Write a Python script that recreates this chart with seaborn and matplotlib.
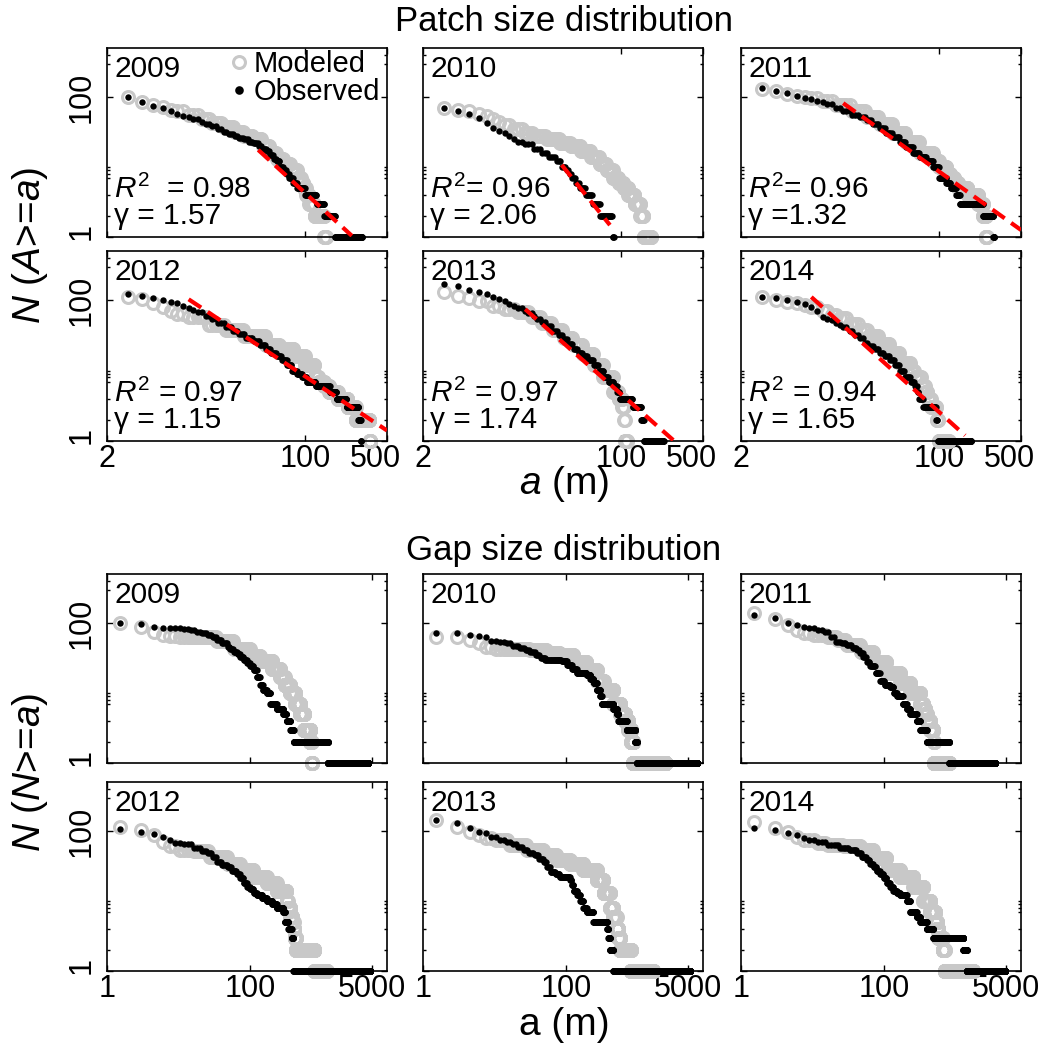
import numpy as np
import pandas as pd
import matplotlib
matplotlib.use("Agg")
import matplotlib.pyplot as plt
from matplotlib.ticker import FixedLocator, NullLocator, NullFormatter
from matplotlib.transforms import ScaledTranslation
import seaborn as sns

# ---------------------------------------------------------------- data
years = ["2009", "2010", "2011", "2012", "2013", "2014"]
r2_text = ["$R^2$  = 0.98", "$R^2$= 0.96", "$R^2$= 0.96",
           "$R^2$ = 0.97", "$R^2$ = 0.97", "$R^2$ = 0.94"]
gamma_text = ["γ = 1.57", "γ = 2.06", "γ =1.32", "γ = 1.15", "γ = 1.74", "γ = 1.65"]

# fitted power-law lines of the patch panels (size and count at both ends)
fit_a_start = [39.5, 30.8, 15, 10, 15, 8]
fit_n_start = [17.5, 10.7, 81.5, 103, 74.5, 111]
fit_a_end = [250, 79.8, 500, 500, 278, 166]
fit_n_end = [1.04, 1.48, 1.26, 1.41, 1.03, 1.2]

patch_xticks = [2, 100, 500]
gap_xticks = [1, 100, 5000]
y_ticks = [1, 100]
y_minor = [2, 4, 7, 8, 9, 10, 300, 400]

patch_step = 1.0   # sizes evaluated every 1 m
gap_step = 1.5     # sizes evaluated every 1.5 m

# N(A>=a): size thresholds a where the count changes and the count from there on
# (last pair = the largest size in the series)
patch_2009_obs_a = [3, 4, 5, 6, 7, 8, 9, 10, 11, 13, 14, 16, 18, 20, 22, 25, 27, 30, 33, 36, 40, 43, 47, 50, 54, 57, 61, 65, 69, 73, 79, 85, 100, 125, 145, 180, 305]
patch_2009_obs_n = [101, 84, 74, 69, 64, 58, 54, 51, 48, 44, 41, 38, 35, 32, 30, 28, 26, 25, 23, 22, 20, 18, 17, 15, 13, 12, 10, 9, 8, 7, 6, 5, 4, 3, 2, 1, 1]
patch_2009_mod_a = [3, 4, 5, 6, 7, 8, 10, 13, 16, 20, 25, 30, 36, 43, 50, 57, 65, 75, 85, 92, 97, 102, 108, 120, 145, 150]
patch_2009_mod_n = [100, 86, 76, 71, 66, 62, 56, 49, 43, 37, 32, 28, 25, 20, 16, 13, 11, 9, 7, 6, 5, 4, 3, 2, 1, 1]

patch_2010_obs_a = [3, 4, 5, 6, 7, 8, 9, 10, 11, 12, 13, 15, 18, 21, 24, 28, 31, 34, 36, 38, 41, 44, 50, 57, 66, 84, 86]
patch_2010_obs_n = [70, 62, 57, 50, 42, 36, 33, 31, 28, 25, 23, 21, 18, 16, 14, 12, 10, 9, 8, 7, 6, 5, 4, 3, 2, 1, 1]
patch_2010_mod_a = [3, 4, 5, 6, 7, 8, 9, 10, 12, 15, 18, 23, 30, 37, 45, 55, 65, 75, 85, 95, 105, 115, 130, 145, 155, 180]
patch_2010_mod_n = [70, 66, 62, 58, 54, 48, 44, 40, 35, 31, 28, 25, 22, 20, 17, 14, 11, 9, 7, 6, 5, 4, 3, 2, 1, 1]

patch_2011_obs_a = [3, 4, 5, 6, 7, 8, 9, 10, 11, 13, 15, 18, 21, 24, 27, 31, 35, 40, 46, 52, 60, 68, 78, 89, 100, 115, 125, 140, 150, 237, 290, 295]
patch_2011_obs_n = [135, 123, 113, 103, 98, 94, 88, 84, 79, 70, 62, 55, 51, 47, 41, 36, 31, 27, 23, 19, 16, 14, 12, 10, 7, 6, 5, 4, 3, 2, 1, 1]
patch_2011_mod_a = [3, 4, 5, 6, 7, 8, 10, 13, 18, 24, 31, 40, 52, 68, 89, 100, 115, 125, 135, 145, 175, 215, 237, 250, 255]
patch_2011_mod_n = [130, 120, 110, 104, 100, 96, 88, 76, 62, 52, 41, 31, 23, 16, 12, 10, 8, 7, 6, 5, 4, 3, 2, 1, 1]

patch_2012_obs_a = [3, 4, 5, 6, 7, 8, 9, 10, 11, 12, 14, 16, 18, 21, 24, 27, 31, 36, 41, 46, 51, 57, 63, 70, 77, 85, 94, 103, 123, 162, 185, 225, 285, 298, 300]
patch_2012_obs_n = [124, 115, 107, 100, 95, 90, 83, 77, 72, 68, 60, 54, 47, 41, 37, 33, 29, 26, 23, 20, 18, 16, 14, 12, 10, 9, 8, 7, 6, 5, 4, 3, 2, 1, 1]
patch_2012_mod_a = [3, 4, 5, 6, 7, 8, 10, 15, 21, 30, 46, 60, 80, 100, 120, 130, 145, 160, 190, 230, 270, 355, 360]
patch_2012_mod_n = [110, 103, 92, 81, 71, 64, 57, 45, 38, 31, 23, 20, 16, 12, 8, 7, 6, 5, 4, 3, 2, 1, 1]

patch_2013_obs_a = [3, 4, 5, 6, 7, 8, 9, 10, 11, 12, 13, 15, 16, 18, 19, 21, 23, 26, 29, 32, 35, 39, 43, 47, 52, 58, 64, 71, 78, 86, 92, 97, 125, 148, 156, 230]
patch_2013_obs_n = [172, 160, 140, 129, 122, 112, 104, 96, 89, 83, 77, 70, 65, 59, 54, 49, 43, 37, 32, 28, 24, 20, 18, 16, 14, 12, 10, 8, 7, 6, 5, 4, 3, 2, 1, 1]
patch_2013_mod_a = [3, 4, 5, 6, 8, 10, 13, 17, 21, 26, 32, 39, 47, 58, 70, 85, 95, 102, 106, 108, 112]
patch_2013_mod_n = [130, 116, 106, 98, 84, 75, 67, 57, 48, 38, 29, 23, 17, 12, 8, 5, 4, 3, 2, 1, 1]

patch_2014_obs_a = [3, 4, 5, 6, 7, 8, 9, 10, 11, 12, 13, 14, 15, 17, 19, 21, 23, 25, 28, 31, 34, 38, 42, 46, 51, 57, 62, 65, 67, 73, 94, 97, 188]
patch_2014_obs_n = [111, 107, 100, 95, 88, 81, 70, 57, 54, 52, 48, 45, 41, 36, 32, 29, 25, 22, 20, 18, 16, 14, 12, 10, 8, 7, 6, 5, 4, 3, 2, 1, 1]
patch_2014_mod_a = [3, 4, 5, 6, 7, 8, 10, 12, 14, 17, 21, 25, 31, 38, 46, 57, 62, 70, 76, 80, 85, 95, 99, 120]
patch_2014_mod_n = [110, 100, 95, 92, 86, 80, 70, 62, 55, 46, 38, 31, 24, 18, 13, 10, 8, 6, 5, 4, 3, 2, 1, 1]

gap_2009_obs_a = [1.5, 3, 4.5, 6, 7.5, 11, 14, 18, 21, 25, 29, 34, 40, 47, 52, 58, 65, 72, 80, 89, 99, 110, 122, 136, 150, 169, 188, 232, 286, 318, 360, 400, 1200, 4400]
gap_2009_obs_n = [99, 96, 88, 86, 84, 82, 80, 75, 71, 67, 62, 57, 51, 46, 42, 39, 36, 33, 30, 27, 24, 21, 17, 13, 11, 10, 7, 6, 5, 4, 3, 2, 1, 1]
gap_2009_mod_a = [1.5, 3, 4.5, 6, 7.5, 10, 20, 34, 58, 99, 136, 200, 259, 300, 357, 420, 493, 560, 680, 710, 720]
gap_2009_mod_n = [100, 88, 75, 68, 65, 63, 62, 55, 42, 34, 29, 22, 17, 13, 10, 7, 5, 3, 2, 1, 1]

gap_2010_obs_a = [1.5, 3, 4.5, 6, 7.5, 9, 12, 15, 18, 22, 26, 31, 37, 43, 50, 85, 101, 120, 139, 190, 215, 238, 265, 295, 310, 450, 505, 530, 690, 910, 960, 6600]
gap_2010_obs_n = [73, 71, 67, 65, 64, 56, 54, 51, 47, 44, 41, 39, 35, 32, 30, 29, 25, 22, 19, 18, 16, 14, 11, 9, 7, 6, 5, 4, 3, 2, 1, 1]
gap_2010_mod_a = [1.5, 4.5, 6, 7.5, 10, 31, 53, 80, 125, 190, 265, 330, 450, 560, 660, 730, 800, 850, 2400]
gap_2010_mod_n = [64, 57, 51, 46, 43, 41, 37, 35, 28, 21, 15, 11, 7, 5, 4, 3, 2, 1, 1]

gap_2011_obs_a = [1.5, 3, 4.5, 6, 7.5, 9, 11, 14, 17, 21, 25, 30, 35, 41, 45, 50, 56, 63, 74, 87, 100, 120, 135, 149, 180, 205, 228, 281, 314, 388, 800, 3500]
gap_2011_obs_n = [130, 117, 101, 94, 87, 84, 80, 75, 64, 54, 51, 48, 44, 41, 37, 33, 28, 24, 19, 15, 13, 12, 10, 9, 7, 6, 5, 4, 3, 2, 1, 1]
gap_2011_mod_a = [1.5, 3, 4.5, 6, 7.5, 10, 16, 22, 30, 46, 70, 108, 165, 228, 314, 348, 370, 388, 433, 482, 490, 800]
gap_2011_mod_n = [137, 113, 94, 80, 71, 67, 64, 57, 48, 39, 28, 19, 14, 10, 7, 6, 5, 4, 3, 2, 1, 1]

gap_2012_obs_a = [1.5, 3, 4.5, 6, 7.5, 9, 12, 16, 20, 25, 29, 34, 40, 47, 55, 64, 72, 80, 90, 99, 110, 122, 145, 169, 200, 232, 286, 303, 337, 375, 397, 4700]
gap_2012_obs_n = [107, 96, 90, 83, 74, 68, 65, 57, 52, 48, 42, 36, 33, 31, 27, 24, 21, 18, 16, 15, 13, 12, 11, 10, 9, 8, 7, 5, 4, 3, 1, 1]
gap_2012_mod_a = [1.5, 3, 4.5, 6, 7.5, 10, 16, 27, 47, 72, 110, 169, 232, 318, 330, 360, 385, 400, 410, 430, 780, 1150]
gap_2012_mod_n = [115, 103, 88, 70, 60, 53, 51, 43, 34, 28, 22, 18, 14, 10, 8, 6, 5, 4, 3, 2, 1, 1]

gap_2013_obs_a = [1.5, 3, 4.5, 6, 7.5, 9, 12, 15, 18, 21, 25, 30, 35, 41, 48, 53, 59, 70, 80, 112, 118, 125, 140, 155, 172, 192, 237, 370, 383, 404, 450, 5300]
gap_2013_obs_n = [144, 129, 111, 98, 93, 83, 74, 70, 65, 59, 53, 49, 45, 40, 36, 31, 26, 24, 22, 20, 17, 14, 12, 10, 8, 7, 5, 4, 3, 2, 1, 1]
gap_2013_mod_a = [1.5, 3, 4.5, 6, 7.5, 10, 16, 28, 48, 73, 112, 172, 265, 328, 404, 450, 500, 530, 560, 790, 1600]
gap_2013_mod_n = [144, 115, 98, 87, 79, 74, 63, 53, 45, 38, 34, 28, 20, 13, 8, 6, 4, 3, 2, 1, 1]

gap_2014_obs_a = [1.5, 3, 4.5, 6, 7.5, 9, 11, 16, 24, 33, 41, 48, 56, 63, 70, 78, 87, 97, 108, 120, 133, 150, 165, 205, 228, 281, 314, 388, 480, 1260, 1400, 4800]
gap_2014_obs_n = [109, 103, 93, 88, 79, 74, 69, 63, 58, 53, 48, 43, 38, 34, 31, 27, 24, 21, 18, 16, 14, 13, 12, 10, 7, 6, 5, 4, 3, 2, 1, 1]
gap_2014_mod_a = [1.5, 3, 4.5, 6, 7.5, 11, 16, 27, 46, 70, 108, 165, 253, 348, 433, 509, 540, 565, 650, 690, 1700]
gap_2014_mod_n = [135, 109, 98, 83, 74, 67, 63, 60, 53, 41, 28, 22, 16, 10, 7, 5, 4, 3, 2, 1, 1]

patch_obs = [(patch_2009_obs_a, patch_2009_obs_n), (patch_2010_obs_a, patch_2010_obs_n),
             (patch_2011_obs_a, patch_2011_obs_n), (patch_2012_obs_a, patch_2012_obs_n),
             (patch_2013_obs_a, patch_2013_obs_n), (patch_2014_obs_a, patch_2014_obs_n)]
patch_mod = [(patch_2009_mod_a, patch_2009_mod_n), (patch_2010_mod_a, patch_2010_mod_n),
             (patch_2011_mod_a, patch_2011_mod_n), (patch_2012_mod_a, patch_2012_mod_n),
             (patch_2013_mod_a, patch_2013_mod_n), (patch_2014_mod_a, patch_2014_mod_n)]
gap_obs = [(gap_2009_obs_a, gap_2009_obs_n), (gap_2010_obs_a, gap_2010_obs_n),
           (gap_2011_obs_a, gap_2011_obs_n), (gap_2012_obs_a, gap_2012_obs_n),
           (gap_2013_obs_a, gap_2013_obs_n), (gap_2014_obs_a, gap_2014_obs_n)]
gap_mod = [(gap_2009_mod_a, gap_2009_mod_n), (gap_2010_mod_a, gap_2010_mod_n),
           (gap_2011_mod_a, gap_2011_mod_n), (gap_2012_mod_a, gap_2012_mod_n),
           (gap_2013_mod_a, gap_2013_mod_n), (gap_2014_mod_a, gap_2014_mod_n)]


def counts(a_thr, n_thr, step):
    """Evaluate the count N(A>=a) on the size grid used by the chart."""
    a_thr = np.asarray(a_thr, float)
    n_thr = np.asarray(n_thr, float)
    k0 = int(np.ceil(a_thr[0] / step - 1e-9))
    k1 = int(np.floor(a_thr[-1] / step + 1e-9))
    grid = np.arange(k0, k1 + 1) * step
    idx = np.searchsorted(a_thr, grid + 1e-9, side="right") - 1
    return pd.DataFrame({"a": grid, "N": n_thr[idx]})


# ---------------------------------------------------------------- style
sns.set_style("ticks")
plt.rcParams["font.family"] = ["Liberation Sans", "DejaVu Sans"]
plt.rcParams["mathtext.fontset"] = "custom"
plt.rcParams["mathtext.rm"] = "Liberation Sans"
plt.rcParams["mathtext.it"] = "Liberation Sans:italic"
plt.rcParams["mathtext.bf"] = "Liberation Sans:bold"
plt.rcParams["axes.linewidth"] = 1.2
for key in ["text.color", "axes.edgecolor", "axes.labelcolor", "xtick.color", "ytick.color"]:
    plt.rcParams[key] = "black"

GRAY = "#c8c8c8"
W, H = 1060, 1059
fig = plt.figure(figsize=(W / 100, H / 100), dpi=100)

col_left = [107, 423, 741]
col_w = 280
row_top = [48, 251, 574, 782]
row_bot = [237, 441, 763, 971]

TICK_FS = 22
TEXT_FS = 21.5

for group in range(2):
    is_patch = group == 0
    obs_list = patch_obs if is_patch else gap_obs
    mod_list = patch_mod if is_patch else gap_mod
    step = patch_step if is_patch else gap_step
    xticks = patch_xticks if is_patch else gap_xticks
    xlim = (2, 500) if is_patch else (1, 8000)
    for i in range(6):
        r, c = divmod(i, 3)
        rr = group * 2 + r
        rect = [col_left[c] / W, 1 - row_bot[rr] / H, col_w / W, (row_bot[rr] - row_top[rr]) / H]
        ax = fig.add_axes(rect)

        df_mod = counts(*mod_list[i], step)
        df_obs = counts(*obs_list[i], step)

        sns.lineplot(data=df_mod, x="a", y="N", ax=ax, estimator=None, errorbar=None,
                     linestyle="", marker="o", markersize=8.6, markerfacecolor="none",
                     markeredgecolor=GRAY, markeredgewidth=2.2, color=GRAY,
                     clip_on=False, zorder=2)
        h_mod = ax.lines[-1]
        sns.lineplot(data=df_obs, x="a", y="N", ax=ax, estimator=None, errorbar=None,
                     linestyle="", marker="o", markersize=4.6, markerfacecolor="black",
                     markeredgecolor="black", markeredgewidth=0, color="black",
                     clip_on=False, zorder=3)
        h_obs = ax.lines[-1]

        if is_patch:
            sns.lineplot(x=[fit_a_start[i], fit_a_end[i]], y=[fit_n_start[i], fit_n_end[i]],
                         ax=ax, estimator=None, errorbar=None, color="red", linewidth=3,
                         linestyle=(0, (3.6, 1.9)), zorder=4)

        ax.set_xscale("log")
        ax.set_yscale("log")
        ax.set_xlim(*xlim)
        ax.set_ylim(1, 500)
        ax.set_xticks(xticks, [str(t) for t in xticks])
        ax.set_yticks(y_ticks, [str(t) for t in y_ticks])
        ax.xaxis.set_minor_locator(NullLocator())
        ax.yaxis.set_minor_locator(FixedLocator(y_minor))
        ax.yaxis.set_minor_formatter(NullFormatter())
        ax.set_xlabel("")
        ax.set_ylabel("")
        ax.tick_params(which="both", direction="in", top=True, right=True, width=1.0)
        ax.tick_params(which="major", length=4)
        ax.tick_params(which="minor", length=2.2)
        ax.tick_params(axis="x", labelsize=TICK_FS, pad=2.5, labelbottom=(r == 1))
        ax.tick_params(axis="y", labelsize=TICK_FS, pad=7.5, labelrotation=90, labelleft=(c == 0))
        for lab in ax.get_yticklabels():
            lab.set_va("center")
        for sp in ax.spines.values():
            sp.set_visible(True)
            sp.set_linewidth(1.2)
            sp.set_color("black")
        if c == 0:
            t1 = ax.yaxis.get_major_ticks()[0]
            t1.label1.set_transform(t1.label1.get_transform() +
                                    ScaledTranslation(0, 4 / 72, fig.dpi_scale_trans))
        if is_patch and r == 1:
            t5 = ax.xaxis.get_major_ticks()[-1]
            t5.label1.set_transform(t5.label1.get_transform() +
                                    ScaledTranslation(-8 / 72, 0, fig.dpi_scale_trans))

        ax.text(0.025, 0.847, years[i], transform=ax.transAxes, fontsize=TEXT_FS,
                ha="left", va="baseline")
        if is_patch:
            ax.text(0.025, 0.037, r2_text[i] + "\n" + gamma_text[i], transform=ax.transAxes,
                    fontsize=TEXT_FS, ha="left", va="bottom", linespacing=0.9)

        leg = ax.get_legend()
        if leg is not None:
            leg.remove()
        if is_patch and i == 0:
            leg = ax.legend([h_mod, h_obs], ["Modeled", "Observed"], loc="upper right",
                            bbox_to_anchor=(0.975, 0.99), frameon=False, fontsize=21,
                            handlelength=0.5, handletextpad=0.25, borderaxespad=0.0,
                            borderpad=0.0, labelspacing=0.0)
            hs = getattr(leg, "legend_handles", None) or getattr(leg, "legendHandles", [])
            if len(hs) > 1:
                hs[1].set_markersize(6.2)

# titles and axis labels
fig.text(0.532, 1 - 31 / H, "Patch size distribution", fontsize=25, ha="center", va="baseline")
fig.text(0.532, 1 - 560 / H, "Gap size distribution", fontsize=25, ha="center", va="baseline")
fig.text(0.532, 1 - 494 / H, "$a$ (m)", fontsize=28, ha="center", va="baseline")
fig.text(0.532, 1 - 1035 / H, "a (m)", fontsize=28, ha="center", va="baseline")
fig.text(30 / W, 1 - 245 / H, "$N$ ($A$>=$a$)", fontsize=28, rotation=90, ha="center", va="center")
fig.text(30 / W, 1 - 772 / H, "$N$ ($N$>=$a$)", fontsize=28, rotation=90, ha="center", va="center")

fig.savefig("out.png", dpi=100)
